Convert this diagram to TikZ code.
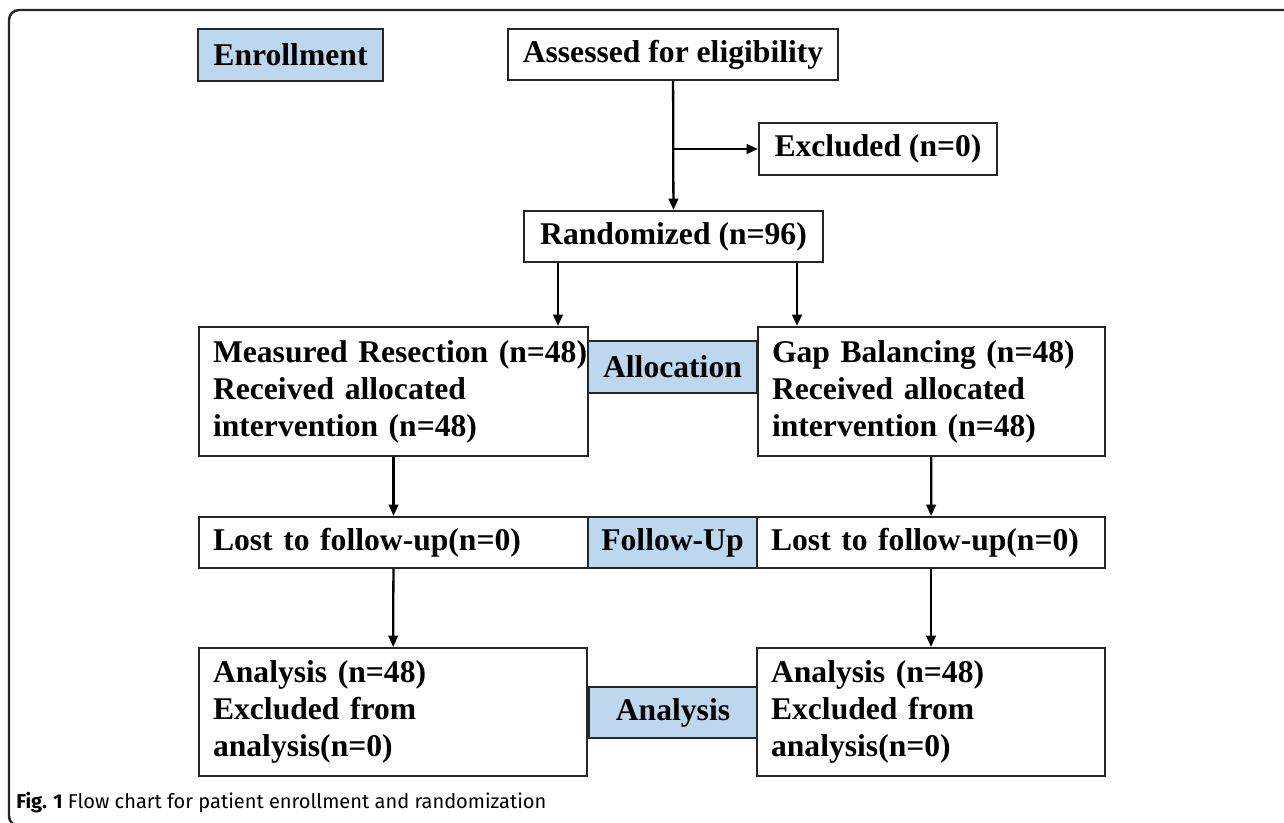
\documentclass[tikz,border=0pt]{standalone}
\usepackage{fontspec}
\setmainfont{Liberation Serif}
\newfontfamily\capfont{Fira Sans}
\usetikzlibrary{arrows.meta}
\definecolor{stageblue}{HTML}{BDD7EE}

\begin{document}
\begin{tikzpicture}
	[
	x = {(0.020000cm, 0.000000cm)},
	y = {(0.000000cm, -0.020000cm)},
	frame/.style = {draw = black!85, line width = 1.4pt, rounded corners = 0.2cm},
	box/.style = {draw = black!85, line width = 1.2pt, fill = white, inner sep = 0pt, font = \fontsize{18}{21}\selectfont\bfseries},
	stage/.style = {box, fill = stageblue},
	leftbox/.style = {box, align = left, inner xsep = 0.28cm},
	arrow/.style = {line width = 1.3pt, -{Triangle[length = 6.5pt, width = 5.5pt]}},
	caption/.style = {anchor = west, inner sep = 0pt, font = \capfont\fontsize{11.4}{13}\selectfont}]
	
	\useasboundingbox (0, 0) rectangle (1284, 822);
	\clip (0, 0) rectangle (1284, 822);
	\draw[frame] (9, 10) rectangle (1300, 826);
	
	%% Drawing the boxes
	
	\node[stage, minimum width = 3.70cm, minimum height = 1.04cm] (enroll) at (290.5, 55) {Enrollment};
	\node[box, minimum width = 6.60cm, minimum height = 1.02cm] (assessed) at (673, 54.5) {Assessed for eligibility};
	\node[box, minimum width = 4.76cm, minimum height = 1.04cm] (excluded) at (878, 149) {Excluded (n=0)};
	\node[box, minimum width = 5.98cm, minimum height = 1.02cm] (random) at (673.5, 236.5) {Randomized (n=96)};
	
	\node[leftbox, text width = 7.22cm, minimum height = 2.58cm] (measured) at (393.5, 391.5) {\mbox{Measured Resection (n=48)}\\Received allocated\\intervention (n=48)};
	\node[stage, minimum width = 3.38cm, minimum height = 1.04cm] (alloc) at (672.5, 367) {Allocation};
	\node[leftbox, text width = 6.38cm, minimum height = 2.58cm] (gap) at (931.5, 391.5) {Gap Balancing (n=48)\\Received allocated\\intervention (n=48)};
	
	\node[leftbox, text width = 7.22cm, minimum height = 1.02cm] (lostL) at (393.5, 542.5) {Lost to follow-up(n=0)};
	\node[stage, minimum width = 3.38cm, minimum height = 1.02cm] (follow) at (672.5, 542.5) {Follow-Up};
	\node[leftbox, text width = 6.40cm, minimum height = 1.02cm] (lostR) at (931, 542.5) {Lost to follow-up(n=0)};
	
	\node[leftbox, text width = 7.20cm, minimum height = 2.56cm] (anaL) at (393, 712) {Analysis (n=48)\\Excluded from\\analysis(n=0)};
	\node[stage, minimum width = 3.36cm, minimum height = 1.02cm] (analysis) at (673, 712.5) {Analysis};
	\node[leftbox, text width = 6.40cm, minimum height = 2.56cm] (anaR) at (931, 712) {Analysis (n=48)\\Excluded from\\analysis(n=0)};
	
	\node[caption] (figcap) at (16, 803) {\textbf{Fig. 1} Flow chart for patient enrollment and randomization};
	
	%% Drawing the arrows
	
	\coordinate (split) at (673.5, 149);
	\coordinate (dropL) at (558, 0);
	\coordinate (dropR) at (797, 0);
	
	\draw[arrow] (assessed) -- (random);
	\draw[arrow] (split) -- (excluded);
	\draw[arrow] (random.south -| dropL) -- (measured.north -| dropL);
	\draw[arrow] (random.south -| dropR) -- (gap.north -| dropR);
	\draw[arrow] (measured) -- (lostL);
	\draw[arrow] (gap) -- (lostR);
	\draw[arrow] (lostL) -- (anaL);
	\draw[arrow] (lostR) -- (anaR);
\end{tikzpicture}
\end{document}
